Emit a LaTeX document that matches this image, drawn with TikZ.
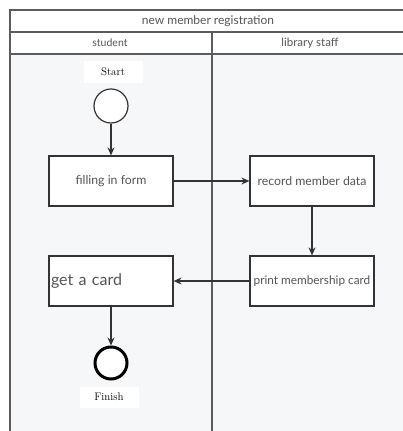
\documentclass[tikz,border=0pt]{standalone}
\usepackage{fontspec}
\setsansfont{Lato}
\usetikzlibrary{arrows.meta}
\definecolor{lanebg}{HTML}{F6F7F9}
\definecolor{framegray}{HTML}{5C5C5C}
\definecolor{textgray}{HTML}{555555}
\definecolor{linegray}{HTML}{333333}
\begin{document}
\begin{tikzpicture}[x=1pt,y=-1pt,>={Stealth[length=8pt,width=7pt]},font=\sffamily]
    \useasboundingbox (0,0) rectangle (403,431);

    % pool and lanes
    \fill[lanebg] (10,54) rectangle (410,440);
    \draw[framegray,line width=1.5pt] (410,10) -- (10,10) -- (10,440);
    \draw[framegray,line width=1.5pt] (10,32) -- (410,32);
    \draw[framegray,line width=1.5pt] (10,54) -- (410,54);
    \draw[framegray,line width=1.5pt] (212,32) -- (212,440);

    \node[text=textgray,font=\sffamily\fontsize{12}{14}\selectfont]     (title)   at (208,21) {new member registration};
    \node[text=textgray,font=\sffamily\fontsize{10.5}{12}\selectfont]   (student) at (110,43) {student};
    \node[text=textgray,font=\sffamily\fontsize{11.5}{13}\selectfont]   (staff)   at (310,43) {library staff};

    % start and end
    \node[fill=white,minimum width=59pt,minimum height=22pt,font=\rmfamily\fontsize{11}{13}\selectfont] (startlbl)  at (113,72)  {Start};
    \node[draw=linegray,fill=white,circle,line width=1.2pt,minimum size=34pt] (start)  at (111,106) {};
    \node[draw=black,fill=white,circle,line width=3pt,minimum size=32pt]      (finish) at (111,363) {};
    \node[fill=white,minimum width=59pt,minimum height=21pt,font=\rmfamily\fontsize{11}{13}\selectfont] (finishlbl) at (109,397) {Finish};

    % actions
    \begin{scope}[minimum width=124pt,minimum height=50pt]
      \tikzstyle{every node}=[draw=linegray,fill=white,line width=1.2pt,text=textgray,font=\sffamily\fontsize{12.3}{14}\selectfont]
      \node (fill)    at (111,181) {filling in form};
      \node (record)  at (312,181) {record member data};
      \node[font=\sffamily\fontsize{11.8}{14}\selectfont,inner sep=1pt] (print) at (312,281) {print membership card};
      \node[font=\sffamily\fontsize{16}{18}\selectfont,text width=120pt,align=left,inner sep=1pt] (getcard) at (111,281) {get a card};
    \end{scope}

    \draw[linegray,line width=1.2pt,->] (start)   -- (fill);
    \draw[linegray,line width=1.2pt,->] (fill)    -- (record);
    \draw[linegray,line width=1.2pt,->] (record)  -- (print);
    \draw[linegray,line width=1.2pt,->] (print)   -- (getcard);
    \draw[linegray,line width=1.2pt,->] (getcard) -- (finish);
  \end{tikzpicture}
\end{document}
